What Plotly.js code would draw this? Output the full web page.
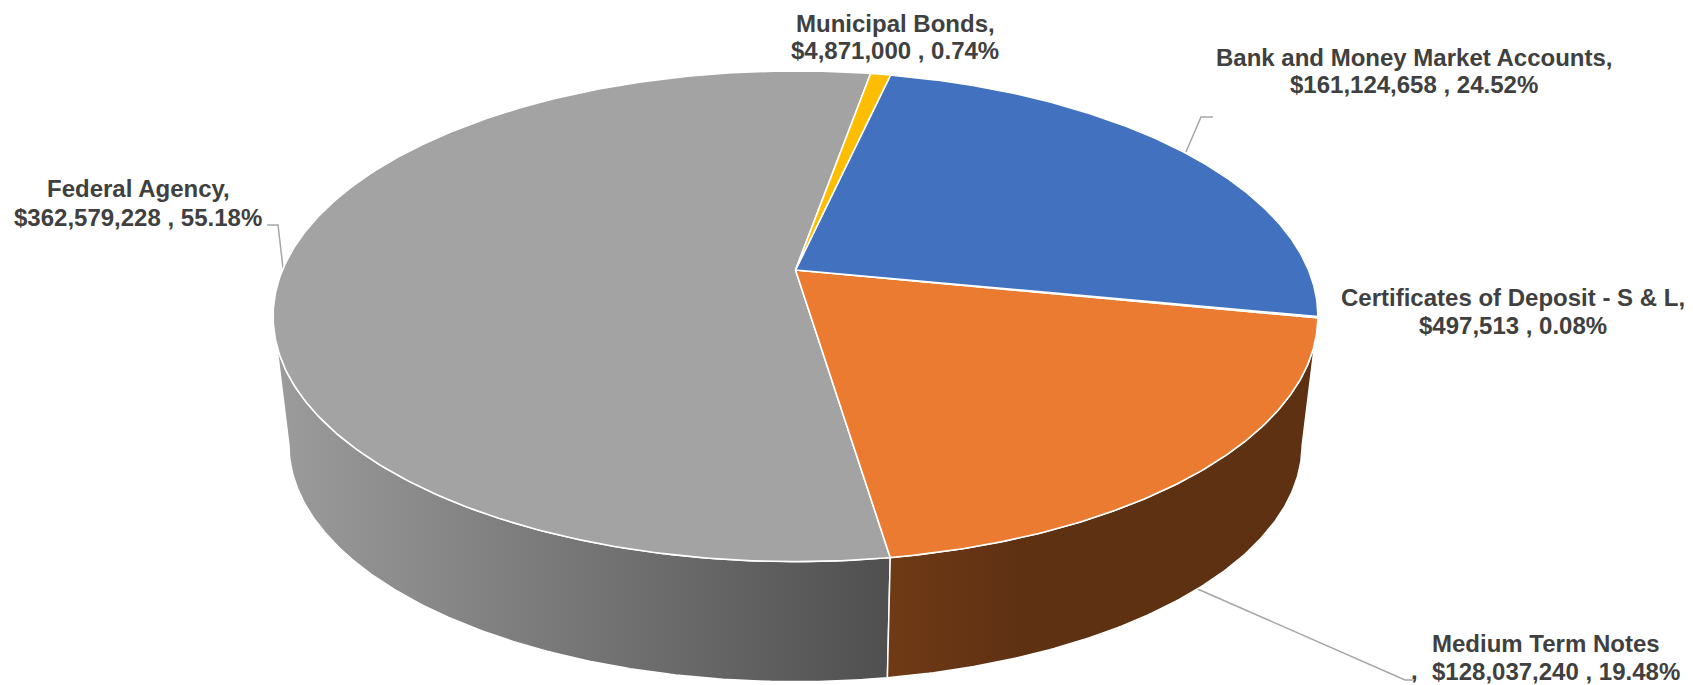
<!DOCTYPE html>
<html>
<head>
<meta charset="utf-8">
<script src="https://cdn.plot.ly/plotly-3.0.1.min.js"></script>
<style>html,body{margin:0;padding:0;background:#fff;overflow:hidden}#chart{width:1693px;height:685px}</style>
</head>
<body>
<div id="chart"></div>
<script>
// ---- data (clockwise from the top of the pie) ----
const categories = ["Municipal Bonds", "Bank and Money Market Accounts", "Certificates of Deposit - S & L", "Medium Term Notes", "Federal Agency"];
const amounts = [4871000, 161124658, 497513, 128037240, 362579228];
const amountText = ["$4,871,000", "$161,124,658", "$497,513", "$128,037,240", "$362,579,228"];
const percentText = ["0.74%", "24.52%", "0.08%", "19.48%", "55.18%"];
const topColors = ["#fdbd00", "#4271bf", "#5b9bd5", "#ea7b30", "#a3a3a3"];
const sideStops = [
  [[0, "#997300"], [1, "#997300"]],
  [[0, "#2f5597"], [1, "#2f5597"]],
  [[0, "#3d6f9e"], [1, "#3d6f9e"]],
  [[0, "#703a15"], [0.3, "#5f3113"], [1, "#5e3113"]],
  [[0, "#9c9c9c"], [1, "#4f4f4f"]]
];

// ---- projection of the tilted disc onto the plot's pixel-sized axes ----
const startDeg = -80, K = 0.1887, CX = 795.5;
const topDisc = {a: 513, b: 236.6, c: 270};
const lowDisc = {a: 497.5, b: 228.5, c: 400};
const project = (d, deg) => {
  const t = deg * Math.PI / 180, u = Math.cos(t), v = Math.sin(t), w = 1 - K * v;
  return [CX + d.a * u / w, d.c + d.b * v / w];
};
const arc = (d, from, to) => {
  const n = Math.max(2, Math.ceil(Math.abs(to - from) * 2)), pts = [];
  for (let i = 0; i <= n; i++) pts.push(project(d, from + (to - from) * i / n));
  return pts;
};
const total = amounts.reduce((s, x) => s + x, 0);
let cursor = startDeg;
const spans = amounts.map(x => { const a = cursor; cursor += x / total * 360; return [a, cursor]; });

const FRONT = [10.9, 169.1];
const traces = [];
// side walls first, further pieces behind
[4, 3].forEach(i => {
  const from = Math.max(spans[i][0], FRONT[0]), to = Math.min(spans[i][1], FRONT[1]);
  if (to <= from) return;
  const pts = arc(topDisc, from, to).concat(arc(lowDisc, to, from));
  pts.push(pts[0]);
  traces.push({
    type: "scatter", mode: "lines", name: categories[i] + " side",
    x: pts.map(p => p[0]), y: pts.map(p => p[1]),
    fill: "toself",
    fillgradient: {type: "horizontal", colorscale: sideStops[i]},
    line: {color: "#ffffff", width: 1.5},
    hoverinfo: "skip"
  });
});
// top faces
[4, 3, 2, 1, 0].forEach(i => {
  const pts = [[CX, topDisc.c]].concat(arc(topDisc, spans[i][0], spans[i][1]));
  pts.push(pts[0]);
  traces.push({
    type: "scatter", mode: "lines", name: categories[i],
    x: pts.map(p => p[0]), y: pts.map(p => p[1]),
    fill: "toself", fillcolor: topColors[i],
    line: {color: "#ffffff", width: 1.6},
    text: categories[i] + ", " + amountText[i] + " , " + percentText[i],
    hoverinfo: "text", hoveron: "fills"
  });
});

// ---- labels ----
const labelFont = {family: "Liberation Sans, Arial, sans-serif", size: 24, color: "#404040"};
const note = (text, x, y, anchor) => ({
  text: "<b>" + text + "</b>", x, y, xref: "x", yref: "y",
  xanchor: anchor || "center", yanchor: "middle", showarrow: false, font: labelFont
});
const annotations = [
  note(categories[0] + ",", 895, 23), note(amountText[0] + " , " + percentText[0], 895, 50),
  note(categories[1] + ",", 1414, 57), note(amountText[1] + " , " + percentText[1], 1414, 84),
  note(categories[2] + ",", 1513, 297), note(amountText[2] + " , " + percentText[2], 1513, 325),
  note(categories[3], 1430, 643, "left"), note(amountText[3] + " , " + percentText[3], 1430, 671, "left"),
  note(",", 1414, 670),
  note(categories[4] + ",", 138, 188), note(amountText[4] + " , " + percentText[4], 138, 217)
];
const leader = path => ({type: "path", path, xref: "x", yref: "y", line: {color: "#a6a6a6", width: 1.5}, fillcolor: "rgba(0,0,0,0)", layer: "below"});
const shapes = [
  leader("M1186,152 L1201,117 L1213,117"),
  leader("M267,225 L278,225 L283,268"),
  leader("M1193,587 L1405,680 L1414,680")
];

const hidden = {visible: false, fixedrange: true};
Plotly.newPlot("chart", traces, {
  width: 1693, height: 685,
  margin: {l: 0, r: 0, t: 0, b: 0},
  paper_bgcolor: "#ffffff", plot_bgcolor: "#ffffff",
  showlegend: false,
  xaxis: Object.assign({range: [0, 1693]}, hidden),
  yaxis: Object.assign({range: [685, 0]}, hidden),
  annotations, shapes
}, {displayModeBar: false, staticPlot: false});
</script>
</body>
</html>
